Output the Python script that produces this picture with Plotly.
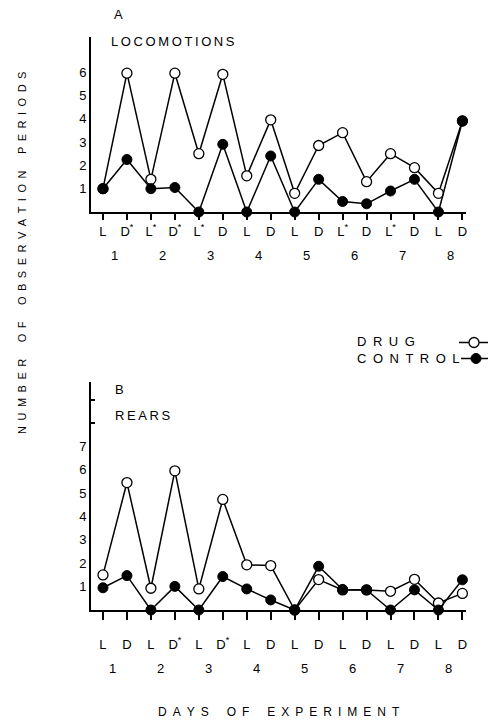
import plotly.graph_objects as go

# ---- data ----
x_pos = list(range(16))
ticks_a = ["L", "D<sup>*</sup>", "L<sup>*</sup>", "D<sup>*</sup>", "L<sup>*</sup>", "D", "L", "D",
           "L", "D", "L<sup>*</sup>", "D", "L<sup>*</sup>", "D", "L", "D"]
ticks_b = ["L", "D", "L", "D<sup>*</sup>", "L", "D<sup>*</sup>", "L", "D",
           "L", "D", "L", "D", "L", "D", "L", "D"]
days = ["1", "2", "3", "4", "5", "6", "7", "8"]

loco_drug = [1.0, 5.95, 1.4, 5.95, 2.5, 5.9, 1.55, 3.95, 0.8, 2.85, 3.4, 1.3, 2.5, 1.9, 0.8, 3.9]
loco_ctrl = [1.0, 2.25, 1.0, 1.05, 0.0, 2.9, 0.0, 2.4, 0.0, 1.4, 0.45, 0.35, 0.9, 1.4, 0.0, 3.9]
rear_drug = [1.5, 5.45, 0.93, 5.95, 0.9, 4.73, 1.93, 1.9, 0.0, 1.3, 0.86, 0.86, 0.8, 1.31, 0.3, 0.71]
rear_ctrl = [0.95, 1.47, 0.0, 1.01, 0.0, 1.43, 0.9, 0.43, 0.0, 1.87, 0.88, 0.86, 0.0, 0.86, 0.0, 1.29]

W, H = 488, 724
FONT = "Liberation Sans"


def spaced(s, gap="\u2002", word="\u2002\u2002\u2002"):
    return word.join(gap.join(w) for w in s.split(" "))


fig = go.Figure()

common_line = dict(color="black", width=1.5)
for xa, ya, drug, ctrl, show in [("x", "y", loco_drug, loco_ctrl, True),
                                  ("x2", "y2", rear_drug, rear_ctrl, False)]:
    fig.add_trace(go.Scatter(x=x_pos, y=drug, xaxis=xa, yaxis=ya, mode="lines+markers",
                             line=common_line, cliponaxis=False, name=" ",
                             showlegend=show, legend="legend",
                             marker=dict(symbol="circle", size=10, color="white",
                                         line=dict(color="black", width=1.3))))
    fig.add_trace(go.Scatter(x=x_pos, y=ctrl, xaxis=xa, yaxis=ya, mode="lines+markers",
                             line=common_line, cliponaxis=False, name=" ",
                             showlegend=show, legend="legend2",
                             marker=dict(symbol="circle", size=10, color="black",
                                         line=dict(color="black", width=1))))

xdom = [91 / W, 466 / W]
ya_dom = [1 - 212 / H, 1 - 37 / H]
yb_dom = [1 - 610 / H, 1 - 382 / H]

xcommon = dict(range=[-0.5, 15.15], domain=xdom, showgrid=False, zeroline=False,
               showline=True, linecolor="black", linewidth=2, ticks="outside",
               tickcolor="black", tickwidth=1.5, tickmode="array", tickvals=x_pos,
               automargin=False,
               tickfont=dict(family=FONT, size=13, color="black"))
ycommon = dict(showgrid=False, zeroline=False, showline=True, linecolor="black",
               linewidth=2, ticks="", automargin=False,
               tickfont=dict(family=FONT, size=13, color="black"))
fig.update_layout(
    xaxis=dict(**xcommon, anchor="y", ticktext=ticks_a, ticklen=6, ticklabelstandoff=0),
    xaxis2=dict(**xcommon, anchor="y2", ticktext=ticks_b, ticklen=8, ticklabelstandoff=13),
    yaxis=dict(**ycommon, range=[0, 7.5], domain=ya_dom, anchor="x",
               tickmode="array", tickvals=[1, 2, 3, 4, 5, 6]),
    yaxis2=dict(**ycommon, range=[0, 9.75], domain=yb_dom, anchor="x2",
                tickmode="array", tickvals=[1, 2, 3, 4, 5, 6, 7]),
    yaxis3=dict(range=[0, 9.75], domain=yb_dom, anchor="x2", overlaying="y2",
                showgrid=False, zeroline=False, showline=False, showticklabels=False,
                tickmode="array", tickvals=[8, 9], ticks="inside", ticklen=4,
                tickcolor="black", tickwidth=1.5, automargin=False),
)
# empty trace to activate the third (tick-only) axis
fig.add_trace(go.Scatter(x=[], y=[], xaxis="x2", yaxis="y3", showlegend=False))

annots = []
for i, d in enumerate(days):
    annots.append(dict(x=2 * i + 0.5, y=1 - 255 / H, xref="x", yref="paper", text=d,
                       showarrow=False, yanchor="middle",
                       font=dict(family=FONT, size=13, color="black")))
    annots.append(dict(x=2 * i + 0.4, y=1 - 668 / H, xref="x2", yref="paper", text=d,
                       showarrow=False, yanchor="middle",
                       font=dict(family=FONT, size=13, color="black")))


def txt(x, y, t, size=13, xanchor="left", angle=0):
    return dict(x=x / W, y=1 - y / H, xref="paper", yref="paper", text=t, showarrow=False,
                xanchor=xanchor, yanchor="middle", textangle=angle,
                font=dict(family=FONT, size=size, color="black"))


annots += [
    txt(112, 15, "A"),
    txt(109, 41, spaced("LOCOMOTIONS", gap="\u2009"), size=13),
    txt(113, 389, "B"),
    txt(113, 415, spaced("REARS", gap="\u2009")),
    txt(355, 342, spaced("DRUG", gap="\u2002")),
    txt(355, 358, spaced("CONTROL", gap="\u2002")),
    txt(279, 712, spaced("DAYS OF EXPERIMENT"), size=12, xanchor="center"),
    txt(22, 253, spaced("NUMBER OF OBSERVATION PERIODS"), size=11, xanchor="center", angle=-90),
]

leg = dict(xanchor="left", yanchor="top", bgcolor="rgba(0,0,0,0)", itemwidth=30,
           tracegroupgap=0, font=dict(family=FONT, size=6, color="black"))
fig.update_layout(
    annotations=annots,
    width=W, height=H, margin=dict(l=0, r=0, t=0, b=0, autoexpand=False),
    paper_bgcolor="white", plot_bgcolor="white",
    showlegend=True,
    legend=dict(**leg, x=454 / W, y=1 - 328 / H),
    legend2=dict(**leg, x=456 / W, y=1 - 344 / H),
    font=dict(family=FONT, color="black"),
)

fig.write_html("out.html", config={"displayModeBar": False},
               post_script="document.body.style.margin='0px';")
